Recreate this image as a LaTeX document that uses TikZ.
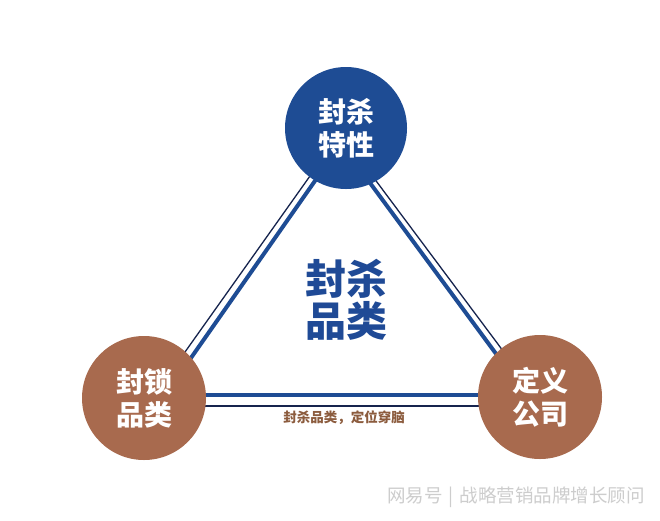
\documentclass[tikz,border=0pt]{standalone}
\usepackage{fontspec}
\newfontfamily\cjk{Noto Sans CJK SC}
\usetikzlibrary{calc}
\definecolor{cblue}{RGB}{30,76,148}
\definecolor{cbrown}{RGB}{168,106,78}
\definecolor{cnavy}{RGB}{22,36,78}
\definecolor{ctext}{RGB}{31,74,150}
\definecolor{ccap}{RGB}{140,92,62}
\definecolor{cwm}{RGB}{205,205,205}
\tikzset{
  hub/.style={circle, minimum size=#1, inner sep=0pt, text=white, align=center,
    font=\cjk\bfseries\fontsize{28}{33}\selectfont},
  bluehub/.style={hub=122pt, fill=cblue},
  brownhub/.style={hub=124pt, fill=cbrown},
  thickedge/.style={draw=cblue, line width=4pt},
  thinedge/.style={draw=cnavy, line width=1.3pt},
}
\begin{document}
\begin{tikzpicture}[x=1pt,y=-1pt]
\useasboundingbox[fill=white] (0,0) rectangle (660,520);
% edge endpoints (inside the circles)
\coordinate (lk1) at (165,395); \coordinate (lk2) at (338,148);
\coordinate (ln1) at (158,390); \coordinate (ln2) at (332,145);
\coordinate (rk1) at (345,149); \coordinate (rk2) at (522,389);
\coordinate (rn1) at (353,150); \coordinate (rn2) at (527,383);
\coordinate (bk1) at (150,395); \coordinate (bk2) at (535,395);
\coordinate (bn1) at (150,406); \coordinate (bn2) at (535,406);
\draw[thickedge] (lk1) -- (lk2);
\draw[thinedge] (ln1) -- (ln2);
\draw[thickedge] (rk1) -- (rk2);
\draw[thinedge] (rn1) -- (rn2);
\draw[thickedge] (bk1) -- (bk2);
\draw[thinedge] (bn1) -- (bn2);
% hubs
\node[bluehub] (top) at (346,128) {封杀\\特性};
\node[brownhub] (left) at (144,398) {封锁\\品类};
\node[brownhub] (right) at (540,397) {定义\\公司};
% center text
\node[text=ctext, align=center, inner sep=0pt,
  font=\cjk\bfseries\fontsize{41}{42}\selectfont] (mid) at (346,300) {封杀\\品类};
% caption
\node[text=ccap, inner sep=0pt, font=\cjk\bfseries\fontsize{13.5}{15}\selectfont] (cap) at (344,418) {封杀品类，定位穿脑};
% watermark
\node[text=cwm, inner sep=0pt, font=\cjk\fontsize{18.5}{20}\selectfont] (wm) at (516,497) {网易号\,\,|\,\,战略营销品牌增长顾问};
\end{tikzpicture}
\end{document}
